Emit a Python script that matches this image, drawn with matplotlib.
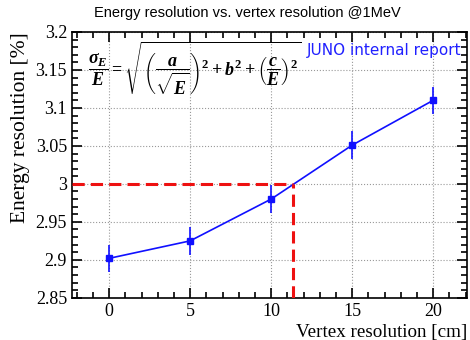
import numpy as np
import matplotlib
matplotlib.use('Agg')
import matplotlib.pyplot as plt
from matplotlib.ticker import MultipleLocator

# data
vertex_res = [0, 5, 10, 15, 20]
energy_res = [2.902, 2.925, 2.980, 3.051, 3.110]
energy_err = [0.018, 0.018, 0.018, 0.018, 0.018]
cross_x = 11.35
cross_y = 3.0

plt.rcParams['mathtext.fontset'] = 'custom'
plt.rcParams['mathtext.rm'] = 'Liberation Serif:bold'
plt.rcParams['mathtext.it'] = 'Liberation Serif:bold:italic'
plt.rcParams['mathtext.bf'] = 'Liberation Serif:bold'

fig = plt.figure(figsize=(4.7, 3.4), dpi=100)
ax = fig.add_axes([0.153, 0.124, 0.841, 0.782])

ax.errorbar(vertex_res, energy_res, yerr=energy_err, color='#1010ff', marker='s',
            markersize=5, lw=1.2, elinewidth=1.2, capsize=0, zorder=3)

# dashed red guide lines
ax.plot([-2.3, cross_x], [cross_y, cross_y], color='#ee1111', ls=(0, (4, 2)), lw=2.2, zorder=4)
ax.plot([cross_x, cross_x], [2.85, cross_y], color='#ee1111', ls=(0, (4, 2)), lw=2.2, zorder=4)

ax.set_xlim(-2.3, 22.1)
ax.set_ylim(2.85, 3.2)
ax.xaxis.set_major_locator(MultipleLocator(5))
ax.xaxis.set_minor_locator(MultipleLocator(1))
ax.yaxis.set_major_locator(MultipleLocator(0.05))
ax.yaxis.set_minor_locator(MultipleLocator(0.01))
ax.yaxis.set_major_formatter(plt.FuncFormatter(lambda v, p: ('%.2f' % v).rstrip('0').rstrip('.')))
ax.tick_params(which='both', direction='in', top=True, right=True, width=1.2)
ax.tick_params(which='major', length=7, labelsize=13)
ax.tick_params(which='minor', length=4)
for lab in ax.get_xticklabels() + ax.get_yticklabels():
    lab.set_fontfamily('Liberation Serif')
for s in ax.spines.values():
    s.set_linewidth(1.2)
ax.grid(True, which='major', color='#999999', ls=':', lw=0.8)

ax.set_xlabel('Vertex resolution [cm]', fontsize=13.7, family='Liberation Serif', loc='right', labelpad=3)
ax.set_ylabel('Energy resolution [%]', fontsize=15.5, family='Liberation Serif', loc='top', labelpad=4)
fig.text(0.526, 0.962, 'Energy resolution vs. vertex resolution @1MeV', fontsize=10.5,
         family='Liberation Sans', ha='center', va='center')

ax.text(0.04, 0.835,
        r'$\dfrac{\sigma_E}{E} = \sqrt{\left(\dfrac{a}{\sqrt{E}}\right)^2 + b^2 + \left(\dfrac{c}{E}\right)^2}$',
        transform=ax.transAxes, fontsize=13, color='black')
ax.text(0.985, 0.93, 'JUNO internal report', transform=ax.transAxes, ha='right', va='center',
        fontsize=11, color='#2020ff', family='DejaVu Sans')

fig.savefig('out.png', dpi=100)
